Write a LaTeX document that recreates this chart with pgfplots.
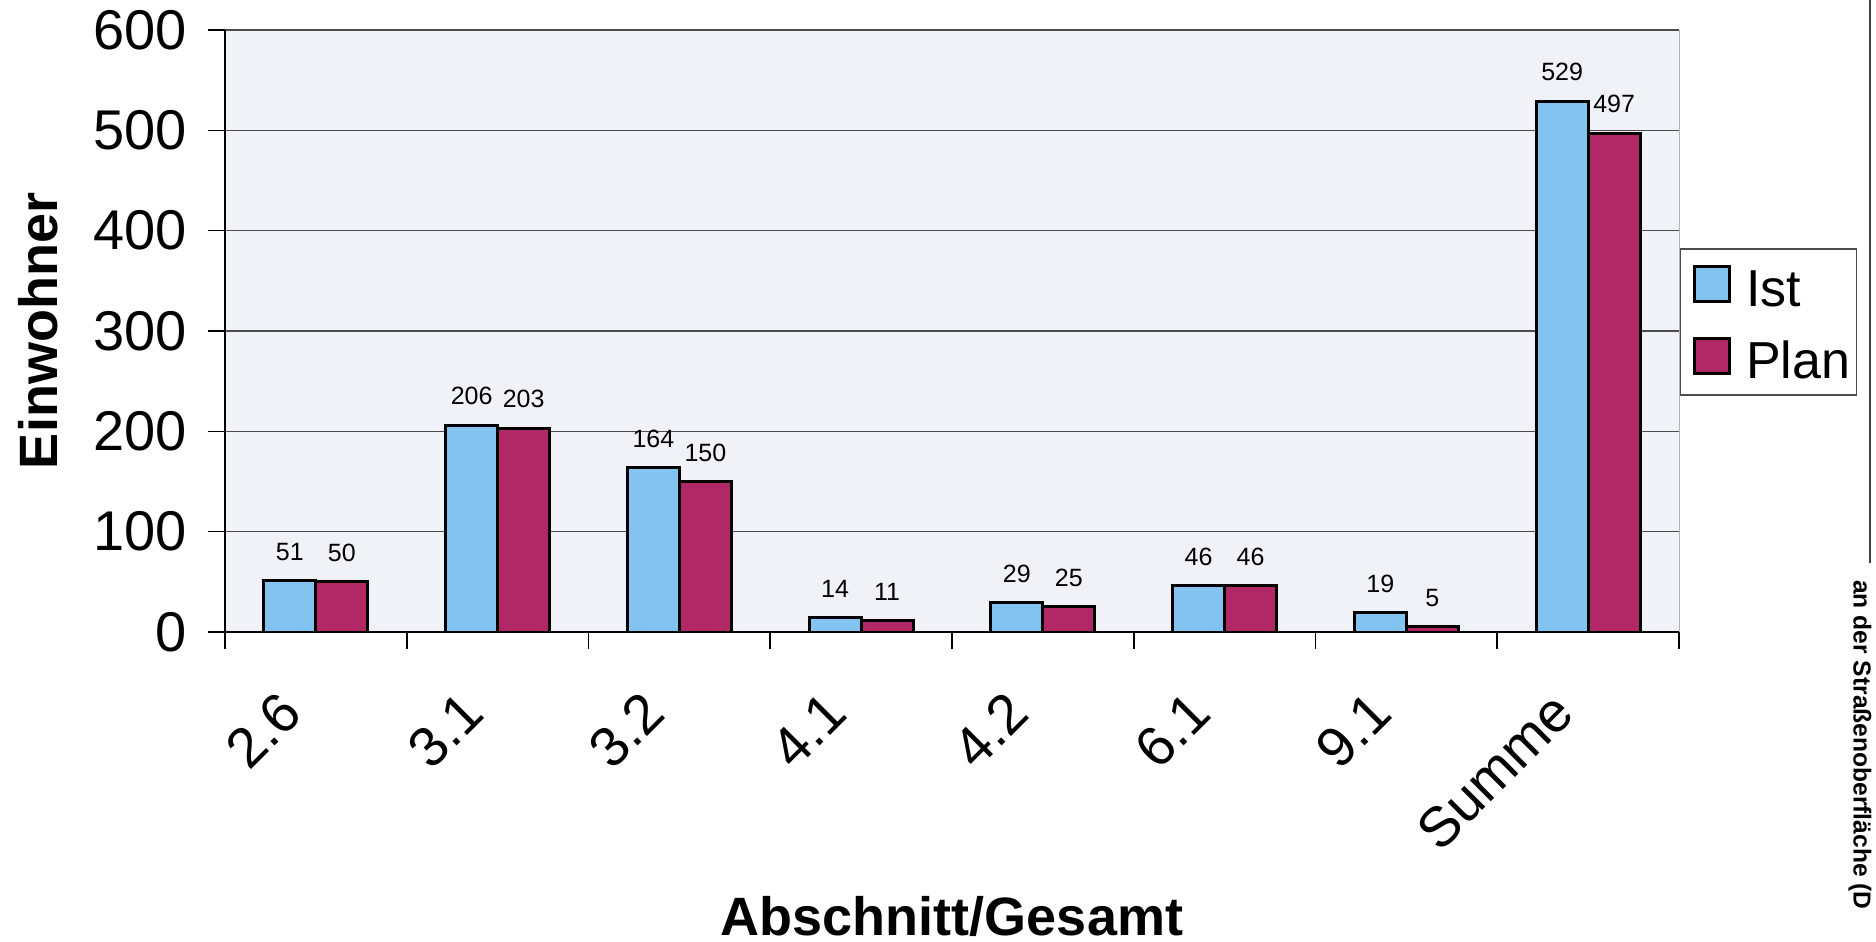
\documentclass[border=0pt]{standalone}
\usepackage{fontspec}
\setmainfont{Liberation Sans}
\usepackage{pgfplots}
\pgfplotsset{compat=1.18}

\definecolor{istblue}{RGB}{130,195,240}
\definecolor{planred}{RGB}{176,40,102}
\definecolor{plotbg}{RGB}{240,242,248}

\begin{document}
\begin{tikzpicture}
% page frame: 1876 x 942 px at 0.5pt per px, origin = bottom left of plot area
\path[use as bounding box] (-112.5pt,-155pt) rectangle (825.5pt,316pt);

\begin{axis}[
    scale only axis,
    width=727pt, height=301pt,
    ybar=0pt, bar width=26pt,
    xmin=-0.5, xmax=7.5,
    ymin=0, ymax=600,
    enlargelimits=false,
    axis lines*=left,
    axis line style={black, line width=1.2pt},
    axis background/.style={fill=plotbg, draw=gray!60},
    ytick={0,100,...,600},
    xtick={-0.5,0.5,...,7.5},
    xticklabels={},
    extra x ticks={0,1,2,3,4,5,6,7},
    extra x tick labels={2.6,3.1,3.2,4.1,4.2,6.1,9.1,Summe},
    extra x tick style={major tick length=0pt,
        xticklabel style={xshift=-10pt, yshift=-33pt, rotate=45, anchor=east}},
    tick align=outside,
    major tick length=8.5pt,
    tick style={black, line width=0.8pt},
    ymajorgrids,
    grid style={gray!60!black, line width=0.7pt},
    /pgf/number format/assume math mode=true,
    ticklabel style={font=\fontsize{28}{34}\selectfont},
    yticklabel style={xshift=-7pt},
    xlabel={Abschnitt/Gesamt},
    ylabel={Einwohner},
    xlabel style={font=\bfseries\fontsize{27}{32}\selectfont,
        at={(axis description cs:0.5,-0.4718)}, anchor=center},
    ylabel style={font=\bfseries\fontsize{27}{32}\selectfont,
        at={(axis description cs:-0.1286,0.5)}, anchor=center, rotate=0},
    nodes near coords,
    every node near coord/.append style={font=\fontsize{12.5}{15}\selectfont, yshift=6pt},
    legend cell align=left,
    legend style={at={(axis description cs:1,0.515)}, anchor=west, xshift=0.5pt,
        draw=gray!60!black, fill=white, line width=0.6pt,
        inner xsep=3pt, inner ysep=0.5pt,
        row sep=0pt, column sep=7.5pt,
        font=\fontsize{26}{31}\selectfont,
        nodes={inner xsep=0pt, inner ysep=0pt, text height=28.5pt, text depth=7.5pt}},
    legend image code/.code={
        \path[draw=none, fill=none] (-4pt,0pt);
        \draw[#1, line width=1.5pt] (0pt,-8pt) rectangle (17.5pt,9.5pt);},
]
\addplot[fill=istblue, draw=black, line width=1.5pt]
    coordinates {(0,51) (1,206) (2,164) (3,14) (4,29) (5,46) (6,19) (7,529)};
\addplot[fill=planred, draw=black, line width=1.5pt]
    coordinates {(0,50) (1,203) (2,150) (3,11) (4,25) (5,46) (6,5) (7,497)};
\legend{Ist,Plan}
\end{axis}

% edge of the neighbouring page
\draw[gray!50!black, line width=0.6pt] (822.5pt,316pt) -- (822.5pt,34.5pt);
\node[rotate=-90, inner sep=0pt, font=\bfseries\fontsize{12.3}{14}\selectfont] at (817.5pt,-56.5pt)
    {an der Straßenoberfläche (D};
\end{tikzpicture}
\end{document}
